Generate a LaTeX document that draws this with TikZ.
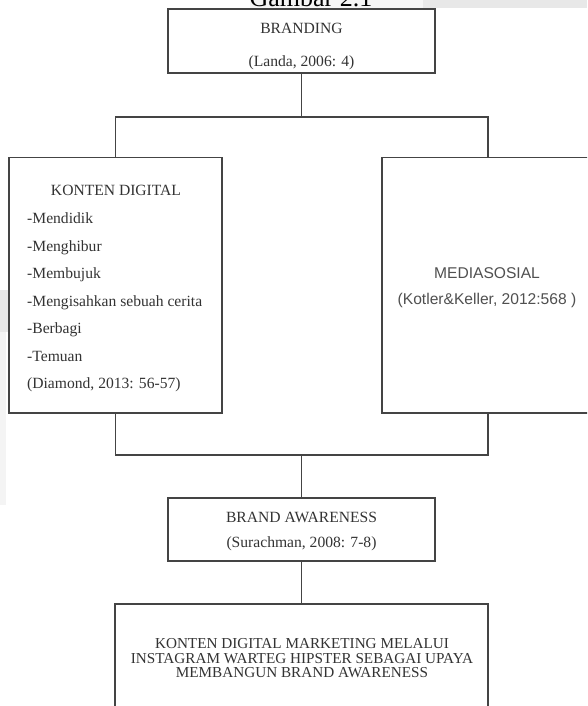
\documentclass[tikz,border=0pt]{standalone}
\usepackage{fontspec}
\setmainfont{Liberation Serif}
\newfontfamily\sansf{Liberation Sans}
\definecolor{linec}{HTML}{444444}
\definecolor{txtc}{HTML}{333333}
\definecolor{stxtc}{HTML}{505050}
\tikzset{
  boxnode/.style={draw=linec, line width=1.3pt, fill=white, rectangle, inner sep=0pt},
  conn/.style={draw=linec, line width=1.3pt},
  stxt/.style={inner sep=0pt, text=txtc, font=\fontsize{15.6}{18}\selectfont, anchor=base},
  ltxt/.style={inner sep=0pt, text=txtc, font=\fontsize{15.6}{18}\selectfont, anchor=base west},
  sanstxt/.style={inner sep=0pt, text=stxtc, font=\sansf\fontsize{15.6}{18}\selectfont, anchor=base},
  ftxt/.style={inner sep=0pt, text=txtc, font=\fontsize{15.2}{15}\selectfont, anchor=base}
}
\begin{document}
\begin{tikzpicture}[x=1pt,y=-1pt]
\useasboundingbox (0,0) rectangle (587,706);
\clip (0,0) rectangle (587,706);
\fill[white] (0,0) rectangle (587,706);
% scan artifacts
\fill[gray!8] (250,0) rectangle (423,8);
\fill[gray!18] (423,0) rectangle (587,8);
\fill[gray!18] (0,290) rectangle (9,332);
\fill[gray!9] (0,332) rectangle (6,505);
% title (cut off at the top edge, as in the reference)
\node[inner sep=0pt, text=black, font=\fontsize{26}{30}\selectfont, anchor=base] (title) at (311,7) {Gambar 2.1};
% boxes
\node[boxnode, minimum width=267pt, minimum height=64pt] (brand) at (301.5,41) {};
\node[boxnode, minimum width=213pt, minimum height=255.5pt] (kd) at (115.5,285.25) {};
\node[boxnode, minimum width=240pt, minimum height=255.5pt] (ms) at (502,285.25) {};
\node[boxnode, minimum width=267pt, minimum height=63pt] (ba) at (301.5,529.5) {};
\node[boxnode, minimum width=373pt, minimum height=130pt] (fin) at (301.5,669) {};
% connector points
\coordinate (j1) at (301.5,117);
\coordinate (j2) at (301.5,455);
\coordinate (msTop) at (488,157.5);
\coordinate (msBot) at (488,413);
% connectors
\draw[conn] (brand.south) -- (j1);
\draw[conn] (kd.north) |- (j1) -| (msTop);
\draw[conn] (kd.south) |- (j2) -| (msBot);
\draw[conn] (j2) -- (ba.north);
\draw[conn] (ba.south) -- (fin.north);
% texts
\node[stxt] (t1) at (301.5,33.5) {BRANDING};
\node[stxt] (t2) at (301.5,66.5) {(Landa, 2006: 4)};
\node[stxt] (k0) at (116,195.5) {KONTEN DIGITAL};
\node[ltxt] (k1) at (27,223.5) {-Mendidik};
\node[ltxt] (k2) at (27,251) {-Menghibur};
\node[ltxt] (k3) at (27,278.5) {-Membujuk};
\node[ltxt] (k4) at (27,306) {-Mengisahkan sebuah cerita};
\node[ltxt] (k5) at (27,333.5) {-Berbagi};
\node[ltxt] (k6) at (27,361) {-Temuan};
\node[ltxt] (k7) at (27,388) {(Diamond, 2013: 56-57)};
\node[sanstxt] (m1) at (487,278.5) {MEDIASOSIAL};
\node[sanstxt] (m2) at (487,304.5) {(Kotler\&Keller, 2012:568 )};
\node[stxt] (b1) at (301.5,522) {BRAND AWARENESS};
\node[stxt] (b2) at (301.5,547.5) {(Surachman, 2008: 7-8)};
\node[ftxt] (f1) at (302,648.5) {KONTEN DIGITAL MARKETING MELALUI};
\node[ftxt] (f2) at (302,663) {INSTAGRAM WARTEG HIPSTER SEBAGAI UPAYA};
\node[ftxt] (f3) at (302,677.5) {MEMBANGUN BRAND AWARENESS};
\end{tikzpicture}
\end{document}
